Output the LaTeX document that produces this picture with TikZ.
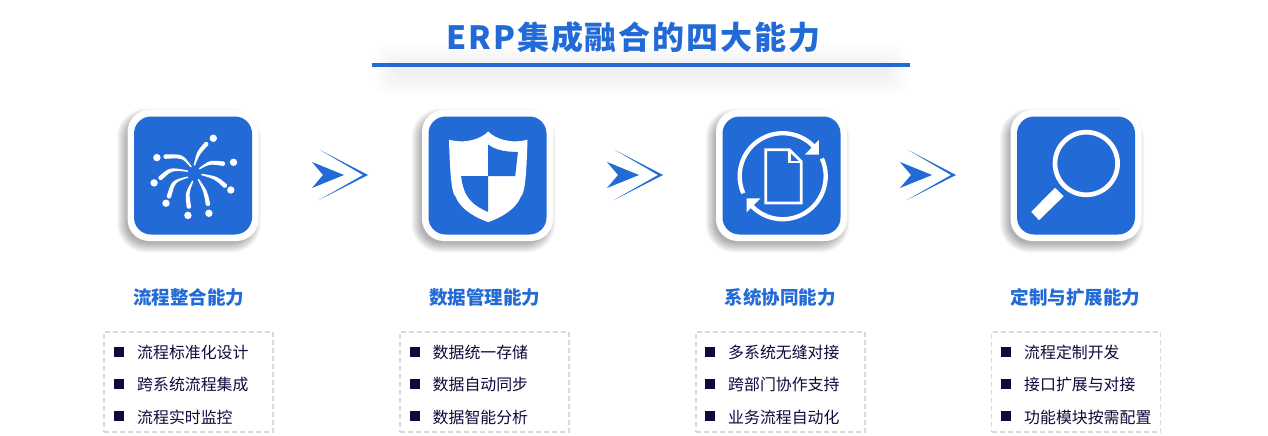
\documentclass[tikz,border=0pt]{standalone}
\usepackage{fontspec}
\setmainfont{Noto Sans CJK SC}
\usepackage{xcolor}
\usetikzlibrary{calc, positioning}
\definecolor{erpblue}{HTML}{226BD6}
\definecolor{erpnavy}{HTML}{0B0B3C}
\definecolor{erpdash}{HTML}{D6D9DD}

\tikzset{
  titletext/.style={text=erpblue, inner sep=0pt, font=\fontsize{32}{32}\selectfont\bfseries\addfontfeature{LetterSpace=6}},
  headtext/.style={text=erpblue, inner sep=0pt, font=\fontsize{18.5}{18.5}\selectfont\bfseries},
  itemtext/.style={text=erpnavy, inner sep=0pt, anchor=west, font=\fontsize{15.9}{16}\selectfont},
  bulletbox/.style={fill=erpnavy, inner sep=0pt, minimum size=10pt},
  listbox/.style={draw=erpdash, line width=1.5pt, dash pattern=on 5pt off 3pt, minimum width=169pt, minimum height=100pt, inner sep=0pt},
  cardouter/.style={fill=white, rounded corners=22pt, minimum size=131pt, inner sep=0pt},
  cardinner/.style={fill=erpblue, rounded corners=17pt, minimum size=118pt, inner sep=0pt},
  rayline/.style={fill=white, draw=white, line width=1.4pt, line join=round},
  chevron/.pic={
    \fill[erpblue] (312,162) -- (344,175) -- (312,188) -- (323,175) -- cycle;
    \fill[erpblue] (320,150) -- (368,175) -- (319,200) -- (363,175) -- cycle;
  }
}

\begin{document}
\begin{tikzpicture}[x=1pt, y=-1pt]
\useasboundingbox (0,0) rectangle (1268,436);
\fill[white] (0,0) rectangle (1268,436);

\def\cardshadow#1{
  \foreach \d in {-3,-2,...,7} {
    \fill[black, opacity=0.032, rounded corners={22+\d}]
      ($(#1)+(-4-65-\d,5-65-\d)$) rectangle ($(#1)+(-4+65+\d,5+65+\d)$);
  }
}
\def\burstray#1#2#3{
  \path[rayline] #1 .. controls ($#2!1.2pt!-90:#3$) .. ($#3!1.5pt!90:#2$)
    -- ($#3!1.5pt!-90:#2$) .. controls ($#2!1.2pt!90:#3$) .. cycle;
  \fill[white] #3 circle (2.2);
}

\coordinate (cardAcenter) at (193,175.5);
\coordinate (cardBcenter) at (487.5,175.5);
\coordinate (cardCcenter) at (781.5,175.5);
\coordinate (cardDcenter) at (1076,175.5);

% title
\foreach \d in {0,3,...,21} {
  \fill[black, opacity=0.008, rounded corners=12pt]
    (396-\d,66-\d) rectangle (886+\d,74+\d);
}
\node[titletext] (titleText) at (633.5,37) {ERP集成融合的四大能力};
\coordinate (ruleLeft) at (372,65);
\coordinate (ruleRight) at (910,65);
\draw[erpblue, line width=3pt] (ruleLeft) -- (ruleRight);

% cards
\cardshadow{cardAcenter}
\cardshadow{cardBcenter}
\cardshadow{cardCcenter}
\cardshadow{cardDcenter}
\node[cardouter] (cardA) at (cardAcenter) {};
\node[cardouter] (cardB) at (cardBcenter) {};
\node[cardouter] (cardC) at (cardCcenter) {};
\node[cardouter] (cardD) at (cardDcenter) {};
\node[cardinner] (iconA) at (cardAcenter) {};
\node[cardinner] (iconB) at (cardBcenter) {};
\node[cardinner] (iconC) at (cardCcenter) {};
\node[cardinner] (iconD) at (cardDcenter) {};

% fireworks
\begin{scope}[shift={(cardAcenter)}]
\burstray{(1.4,-10.5)}{(5.4,-23)}{(13.2,-31.4)}
\burstray{(-2,-8.8)}{(-10.5,-19.6)}{(-27.4,-18.9)}
\burstray{(6.4,-6.8)}{(16.6,-13.5)}{(30,-11.8)}
\burstray{(-5.4,-4.4)}{(-22.3,-6.8)}{(-32.4,2.4)}
\burstray{(8.8,-1)}{(23.3,2.4)}{(31.8,10.1)}
\burstray{(-5.4,1.7)}{(-19.6,5.7)}{(-24,20.9)}
\burstray{(-0.3,5.7)}{(-6.1,17.6)}{(-4.1,31.1)}
\burstray{(5.4,4.1)}{(12.5,15.9)}{(14.9,28.4)}
\fill[white] (20.3,-37.2) circle (3.7);
\fill[white] (-36.1,-17.9) circle (3.7);
\fill[white] (40.5,-13.2) circle (3.7);
\fill[white] (-38.9,7.4) circle (3.7);
\fill[white] (37.8,14.5) circle (3.7);
\fill[white] (-27,27.7) circle (3.7);
\fill[white] (-5.1,39.9) circle (3.7);
\fill[white] (15.9,37.8) circle (3.7);
\end{scope}

% shield
\begin{scope}[shift={(cardBcenter)}]
\fill[white] (0.7,-44) .. controls (-6.8,-36.5) and (-21.6,-31.4) .. (-38.5,-35.8)
  .. controls (-37.5,-2) and (-36,18) .. (-32,21)
  .. controls (-27,34.5) and (-10,43) .. (0.7,46.6)
  .. controls (11.4,43) and (28.4,34.5) .. (33.4,21)
  .. controls (37.5,18) and (39,-2) .. (40,-35.8)
  .. controls (23.1,-31.4) and (8.1,-36.5) .. cycle;
\fill[erpblue] (0.7,-31) .. controls (8.5,-24.6) and (20.3,-23.6) .. (30.4,-23.6)
  -- (27.7,0.7) -- (0.7,0.7) -- cycle;
\fill[erpblue] (-26.4,0.7) -- (0.7,0.7) -- (0.7,36.5)
  .. controls (-15.2,29.4) and (-23.6,22.6) .. cycle;
\end{scope}

% document and arrows
\begin{scope}[shift={(cardCcenter)}]
\coordinate (syncCenter) at (1.2,0.7);
\draw[white, line width=4.3pt] (syncCenter) ++(156.6:43) arc[start angle=156.6, end angle=316, radius=43];
\draw[white, line width=4.3pt] (syncCenter) ++(-24.3:43) arc[start angle=-24.3, end angle=136, radius=43];
\fill[white] (37.3,-35.5) -- (37.3,-21) -- (23.5,-21) -- cycle;
\fill[white] (-35,37) -- (-35,22.8) -- (-21,22.8) -- cycle;
\draw[white, line width=2.7pt, line join=miter] (-15.7,-25.7) -- (7.9,-25.7) -- (19.8,-13.9)
  -- (19.8,27.4) -- (-15.7,27.4) -- cycle;
\draw[white, line width=2.2pt] (7.9,-25.7) -- (7.9,-13.9) -- (19.8,-13.9);
\end{scope}

% magnifier
\begin{scope}[shift={(cardDcenter)}]
\draw[white, line width=4.7pt] (10.3,-12) circle (31.3);
\fill[white] (-21,12.3) -- (-12.3,20.7) -- (-37,44.7) -- (-44.7,36.3) -- cycle;
\end{scope}

% arrows
\pic (arrowA) at (0,0) {chevron};
\pic (arrowB) at (295,0) {chevron};
\pic (arrowC) at (588,0) {chevron};

% headers
\node[headtext] (headA) at (188.5,297) {流程整合能力};
\node[headtext] (headB) at (484.5,297) {数据管理能力};
\node[headtext] (headC) at (780,297) {系统协同能力};
\node[headtext] (headD) at (1075.5,297) {定制与扩展能力};

% lists
\node[listbox] (boxA) at (188.5,382) {};
\node[listbox] (boxB) at (484.5,382) {};
\node[listbox] (boxC) at (780.5,382) {};
\node[listbox] (boxD) at (1076,382) {};

\node[bulletbox] (bulletAa) at (118.5,351.5) {};
\node[bulletbox] (bulletAb) at (118.5,384) {};
\node[bulletbox] (bulletAc) at (118.5,416) {};
\node[itemtext] (itemAa) at (137,352) {流程标准化设计};
\node[itemtext] (itemAb) at (137,384.5) {跨系统流程集成};
\node[itemtext] (itemAc) at (137,417) {流程实时监控};

\node[bulletbox] (bulletBa) at (414.5,351.5) {};
\node[bulletbox] (bulletBb) at (414.5,384) {};
\node[bulletbox] (bulletBc) at (414.5,416) {};
\node[itemtext] (itemBa) at (432.5,352) {数据统一存储};
\node[itemtext] (itemBb) at (432.5,384.5) {数据自动同步};
\node[itemtext] (itemBc) at (432.5,417) {数据智能分析};

\node[bulletbox] (bulletCa) at (710,351.5) {};
\node[bulletbox] (bulletCb) at (710,384) {};
\node[bulletbox] (bulletCc) at (710,416) {};
\node[itemtext] (itemCa) at (728,352) {多系统无缝对接};
\node[itemtext] (itemCb) at (728,384.5) {跨部门协作支持};
\node[itemtext] (itemCc) at (728,417) {业务流程自动化};

\node[bulletbox] (bulletDa) at (1005.5,351.5) {};
\node[bulletbox] (bulletDb) at (1005.5,384) {};
\node[bulletbox] (bulletDc) at (1005.5,416) {};
\node[itemtext] (itemDa) at (1024,352) {流程定制开发};
\node[itemtext] (itemDb) at (1024,384.5) {接口扩展与对接};
\node[itemtext] (itemDc) at (1024,417) {功能模块按需配置};
\end{tikzpicture}
\end{document}
